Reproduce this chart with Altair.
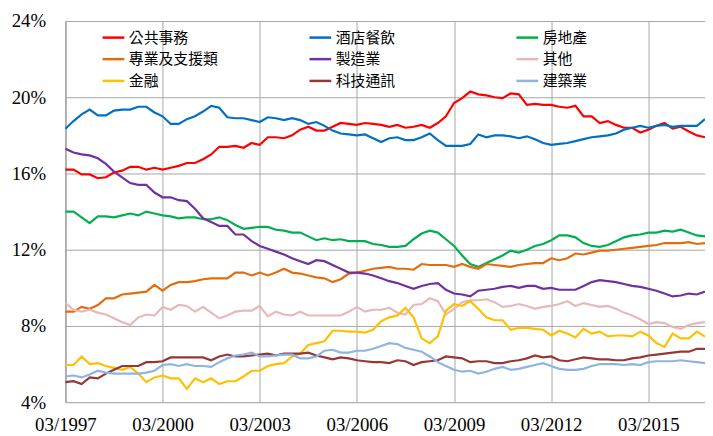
import altair as alt
import pandas as pd

# quarter index 0 = 03/1997 ... 79 = 12/2016
years = list(range(1997, 2017))
months = ["03", "06", "09", "12"]
quarters = [f"{m}/{y}" for y in years for m in months]

series_names = ["公共事務", "酒店餐飲", "房地產",
                "專業及支援類", "製造業", "其他",
                "金融", "科技通訊", "建築業"]
series_colors = ["#FF0000", "#0070C0", "#00B050",
                 "#E46C0A", "#7030A0", "#E6B9B8",
                 "#FFC000", "#953735", "#8EB4E3"]

public = [16.2, 16.2, 15.95, 15.95, 15.75, 15.8, 16.05, 16.15, 16.35, 16.35,
          16.2, 16.3, 16.2, 16.3, 16.4, 16.55, 16.55, 16.75, 17.0, 17.4,
          17.4, 17.45, 17.35, 17.6, 17.5, 17.9, 17.9, 17.85, 18.0, 18.3,
          18.45, 18.25, 18.25, 18.45, 18.65, 18.6, 18.55, 18.65, 18.6, 18.55,
          18.45, 18.55, 18.4, 18.45, 18.55, 18.4, 18.65, 19.0, 19.7, 19.95,
          20.3, 20.15, 20.1, 20.0, 19.95, 20.2, 20.15, 19.6, 19.65, 19.6,
          19.6, 19.5, 19.45, 19.55, 19.0, 19.0, 18.65, 18.75, 18.55, 18.4,
          18.4, 18.15, 18.3, 18.5, 18.65, 18.35, 18.45, 18.2, 18.0, 17.9]
hotel = [18.35, 18.75, 19.1, 19.35, 19.05, 19.05, 19.3, 19.35, 19.35, 19.5,
         19.5, 19.2, 19.0, 18.6, 18.6, 18.85, 19.0, 19.25, 19.55, 19.45,
         18.95, 18.9, 18.9, 18.8, 18.7, 18.95, 18.9, 18.8, 18.9, 18.8,
         18.6, 18.7, 18.5, 18.25, 18.1, 18.05, 18.0, 18.05, 17.85, 17.65,
         17.85, 17.9, 17.75, 17.75, 17.9, 18.1, 17.75, 17.45, 17.45, 17.45,
         17.55, 18.05, 17.9, 18.0, 18.0, 17.95, 17.85, 17.95, 17.8, 17.6,
         17.5, 17.55, 17.6, 17.7, 17.8, 17.9, 17.95, 18.0, 18.1, 18.3,
         18.4, 18.5, 18.4, 18.5, 18.55, 18.45, 18.5, 18.5, 18.5, 18.85]
realestate = [14.0, 14.0, 13.7, 13.4, 13.75, 13.75, 13.7, 13.8, 13.9, 13.8,
              14.0, 13.9, 13.8, 13.75, 13.65, 13.7, 13.7, 13.6, 13.6, 13.7,
              13.55, 13.3, 13.1, 13.15, 13.2, 13.2, 13.05, 13.0, 12.9, 12.9,
              12.7, 12.5, 12.6, 12.5, 12.55, 12.45, 12.45, 12.45, 12.3, 12.25,
              12.15, 12.15, 12.2, 12.55, 12.85, 13.0, 12.9, 12.55, 12.2, 11.7,
              11.25, 11.1, 11.3, 11.5, 11.7, 11.95, 11.85, 12.0, 12.2, 12.3,
              12.5, 12.75, 12.75, 12.65, 12.35, 12.2, 12.15, 12.25, 12.45, 12.65,
              12.75, 12.8, 12.9, 12.9, 13.0, 12.95, 13.05, 12.9, 12.75, 12.7]
professional = [8.75, 8.75, 9.0, 8.9, 9.1, 9.45, 9.45, 9.65, 9.7, 9.75,
                9.8, 10.15, 9.85, 10.15, 10.3, 10.3, 10.35, 10.45, 10.5, 10.5,
                10.5, 10.8, 10.8, 10.65, 10.8, 10.65, 10.8, 11.0, 10.8, 10.75,
                10.65, 10.55, 10.5, 10.3, 10.45, 10.75, 10.8, 10.9, 11.0, 11.05,
                11.1, 11.0, 11.0, 10.95, 11.25, 11.2, 11.2, 11.2, 11.1, 11.25,
                11.1, 11.0, 11.25, 11.2, 11.15, 11.1, 11.2, 11.25, 11.3, 11.3,
                11.55, 11.45, 11.55, 11.8, 11.75, 11.85, 11.95, 11.95, 12.0, 12.05,
                12.1, 12.15, 12.2, 12.25, 12.35, 12.35, 12.35, 12.4, 12.3, 12.35]
manufacturing = [17.3, 17.1, 17.0, 16.95, 16.8, 16.5, 16.1, 15.8, 15.5, 15.4,
                 15.4, 15.0, 14.75, 14.75, 14.6, 14.55, 14.15, 13.65, 13.45, 13.25,
                 13.25, 12.8, 12.8, 12.45, 12.2, 12.05, 11.9, 11.75, 11.55, 11.4,
                 11.25, 11.45, 11.4, 11.2, 11.0, 10.8, 10.8, 10.75, 10.65, 10.5,
                 10.35, 10.25, 10.1, 9.95, 10.1, 10.2, 10.25, 9.9, 9.7, 9.65,
                 9.55, 9.85, 9.9, 9.95, 10.05, 10.1, 10.0, 10.1, 10.1, 9.95,
                 10.0, 9.9, 9.9, 9.9, 10.1, 10.3, 10.4, 10.35, 10.3, 10.2,
                 10.1, 10.05, 9.95, 9.85, 9.7, 9.55, 9.6, 9.7, 9.65, 9.8]
others = [9.2, 8.85, 8.75, 8.85, 8.7, 8.6, 8.4, 8.2, 8.05, 8.45,
          8.6, 8.55, 9.0, 8.85, 9.1, 9.05, 8.75, 9.0, 8.7, 8.4,
          8.55, 8.75, 8.8, 8.8, 9.05, 8.5, 8.75, 8.6, 8.55, 8.75,
          8.55, 8.55, 8.55, 8.55, 8.55, 8.75, 9.0, 8.75, 8.85, 8.85,
          8.95, 8.7, 8.6, 9.1, 9.15, 9.45, 9.3, 8.6, 8.9, 9.25,
          9.35, 9.35, 9.4, 9.25, 9.0, 9.05, 9.15, 9.05, 8.9, 9.0,
          9.05, 9.15, 9.3, 9.05, 9.2, 9.1, 9.0, 9.05, 8.9, 8.7,
          8.55, 8.35, 8.1, 8.2, 8.15, 7.95, 7.85, 8.05, 8.15, 8.2]
finance = [5.95, 5.95, 6.4, 6.0, 6.05, 5.9, 5.8, 5.7, 5.85, 5.5,
           5.05, 5.3, 5.4, 5.25, 5.25, 4.7, 5.25, 5.05, 5.25, 4.95,
           5.1, 5.1, 5.35, 5.65, 5.65, 5.9, 6.0, 6.05, 6.4, 6.55,
           7.0, 7.1, 7.2, 7.75, 7.75, 7.7, 7.7, 7.65, 7.8, 8.25,
           8.45, 8.55, 8.95, 8.45, 7.35, 7.1, 7.45, 8.8, 9.15, 9.05,
           9.3, 8.9, 8.45, 8.3, 8.3, 7.8, 7.9, 7.9, 7.85, 7.8,
           7.5, 7.75, 7.6, 7.4, 7.85, 7.6, 7.7, 7.45, 7.5, 7.5,
           7.45, 7.7, 7.5, 7.1, 6.9, 7.6, 7.35, 7.35, 7.7, 7.45]
tech = [5.05, 5.1, 4.95, 5.3, 5.25, 5.5, 5.7, 5.9, 5.9, 5.9,
        6.1, 6.1, 6.15, 6.35, 6.35, 6.35, 6.35, 6.35, 6.2, 6.4,
        6.5, 6.4, 6.4, 6.45, 6.5, 6.55, 6.45, 6.55, 6.55, 6.55,
        6.6, 6.45, 6.35, 6.25, 6.35, 6.3, 6.2, 6.15, 6.1, 6.1,
        6.05, 6.2, 6.15, 5.95, 6.1, 6.15, 6.2, 6.4, 6.35, 6.3,
        6.1, 6.15, 6.15, 6.05, 6.05, 6.15, 6.2, 6.3, 6.45, 6.35,
        6.4, 6.2, 6.15, 6.25, 6.35, 6.3, 6.25, 6.25, 6.2, 6.2,
        6.3, 6.35, 6.45, 6.5, 6.55, 6.6, 6.65, 6.65, 6.8, 6.8]
construction = [5.35, 5.4, 5.3, 5.45, 5.65, 5.55, 5.5, 5.5, 5.5, 5.5,
                5.55, 5.65, 5.95, 6.0, 5.9, 6.0, 5.9, 5.9, 5.85, 6.1,
                6.3, 6.45, 6.5, 6.6, 6.4, 6.4, 6.45, 6.5, 6.5, 6.3,
                6.3, 6.4, 6.7, 6.75, 6.6, 6.6, 6.7, 6.7, 6.8, 6.95,
                7.1, 7.05, 6.85, 6.75, 6.65, 6.4, 6.1, 5.9, 5.7, 5.6,
                5.65, 5.5, 5.6, 5.75, 5.85, 5.7, 5.75, 5.85, 5.95, 6.05,
                5.9, 5.75, 5.7, 5.7, 5.75, 5.9, 6.0, 6.0, 6.0, 5.95,
                6.0, 5.95, 6.1, 6.15, 6.15, 6.15, 6.2, 6.15, 6.1, 6.05]

series_values = [public, hotel, realestate, professional, manufacturing,
                 others, finance, tech, construction]

y_ticks = [4, 8, 12, 16, 20, 24]
x_ticks = [0, 12, 24, 36, 48, 60, 72]

rows = []
for name, vals in zip(series_names, series_values):
    for i, v in enumerate(vals):
        rows.append({"idx": i, "quarter": quarters[i], "industry": name, "value": v})
df = pd.DataFrame(rows)

serif = "Times New Roman, Liberation Serif, DejaVu Serif, serif"
cjk = "Noto Sans CJK TC"

chart = alt.Chart(df).mark_line(strokeWidth=2.2).encode(
    x=alt.X("idx:Q",
            scale=alt.Scale(domain=[0, 79], nice=False, zero=False),
            axis=alt.Axis(values=x_ticks, title=None,
                          labelExpr="'03/' + (1997 + datum.value / 4)",
                          labelFont=serif, labelFontSize=19, labelColor="#000000",
                          labelPadding=14, ticks=False, domain=False,
                          grid=True, gridColor="#A6A6A6", gridWidth=1,
                          labelFlush=False, labelOverlap=False)),
    y=alt.Y("value:Q",
            scale=alt.Scale(domain=[4, 24], nice=False, zero=False),
            axis=alt.Axis(values=y_ticks, title=None,
                          labelExpr="datum.value + '%'",
                          labelFont=serif, labelFontSize=19, labelColor="#000000",
                          labelPadding=20, ticks=False,
                          domain=True, domainColor="#A6A6A6", domainWidth=1.5,
                          grid=True, gridColor="#A6A6A6", gridWidth=1)),
    color=alt.Color("industry:N",
                    scale=alt.Scale(domain=series_names, range=series_colors),
                    sort=series_names,
                    legend=alt.Legend(title=None, orient="none",
                                      legendX=36, legendY=4,
                                      direction="horizontal",
                                      columns=3, gridAlign="all",
                                      columnPadding=86, rowPadding=1,
                                      symbolType="stroke", symbolSize=484,
                                      symbolStrokeWidth=2.5,
                                      labelFont=cjk, labelFontSize=15,
                                      labelColor="#000000", labelOffset=3,
                                      labelLimit=300)),
    order="idx:Q",
).properties(
    width=646,
    height=385,
    padding={"left": 58, "top": 11, "right": 0, "bottom": 32},
    autosize=alt.AutoSizeParams(type="none"),
).configure_view(stroke=None).configure(background="#FFFFFF")

chart.save("out.html", embed_options={"renderer": "svg", "actions": False})
